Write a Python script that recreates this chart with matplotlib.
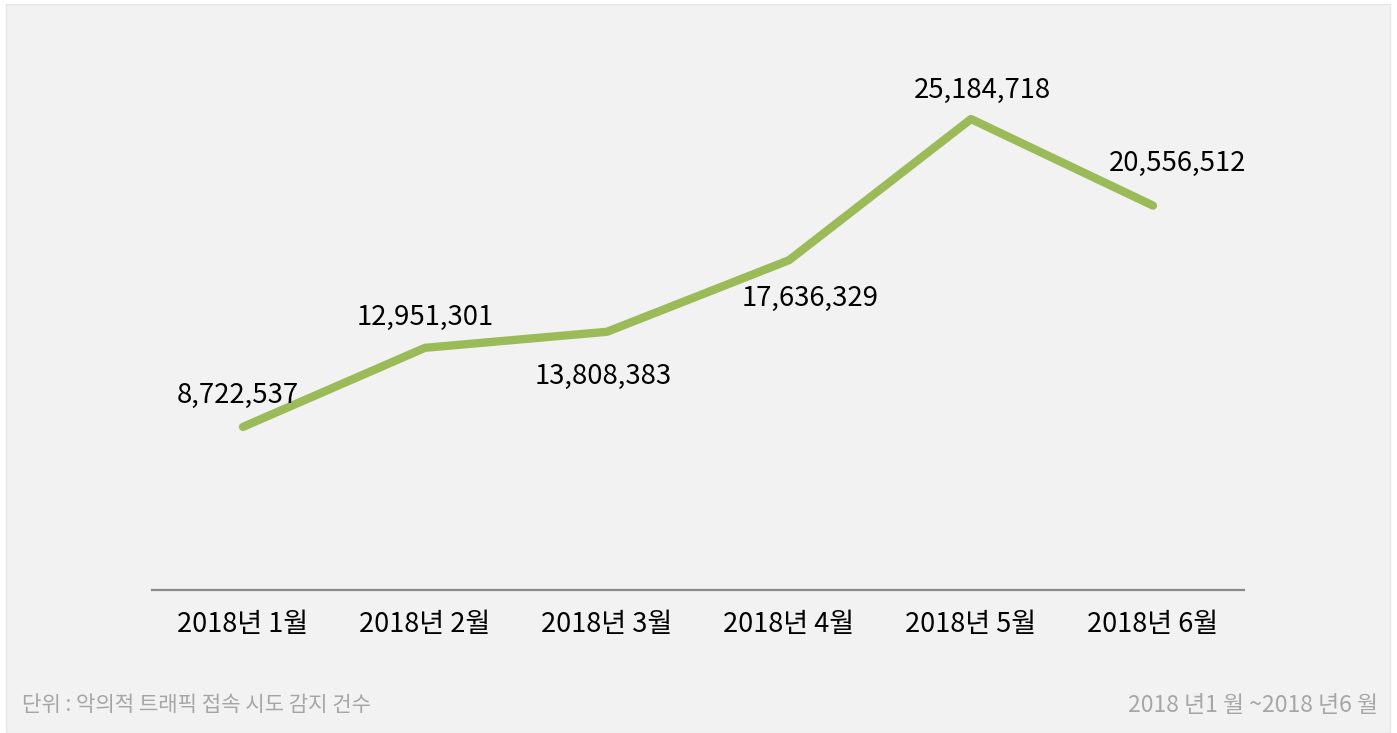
import matplotlib
matplotlib.use("Agg")
import matplotlib.pyplot as plt
from matplotlib.patches import Rectangle

plt.rcParams['font.family'] = ['Noto Sans CJK KR', 'DejaVu Sans']

MONTHS = ["2018년 1월", "2018년 2월", "2018년 3월", "2018년 4월", "2018년 5월", "2018년 6월"]
COUNTS = [8722537, 12951301, 13808383, 17636329, 25184718, 20556512]

# label placement around each point (pixels, x right / y up), baseline-anchored
LABEL_DX = [-5, 0, -4, 21, 11, 25]
LABEL_DY = [24, 23, -52, -46, 21, 35]

UNIT_NOTE = "단위 : 악의적 트래픽 접속 시도 감지 건수"
PERIOD_NOTE = "2018 년1 월 ~2018 년6 월"

LINE_COLOR = "#9bbb59"
PANEL_COLOR = "#f2f2f2"
NOTE_COLOR = "#a6a6a6"


def main():
    fig = plt.figure(figsize=(13.97, 7.33), dpi=100, facecolor="white")
    W, H = 1397, 733

    # grey card behind the chart
    fig.patches.append(Rectangle((6 / W, 0), (1390 - 6) / W, 1 - 4 / H,
                                 transform=fig.transFigure, facecolor=PANEL_COLOR,
                                 edgecolor="#e6e6e6", linewidth=1, zorder=0))

    ax = fig.add_axes([152 / W, 1 - 590 / H, (1244 - 152) / W, (590 - 29) / H])
    ax.set_facecolor("none")
    ax.set_zorder(2)

    x = list(range(len(MONTHS)))
    ax.plot(x, COUNTS, color=LINE_COLOR, linewidth=6, solid_capstyle="round",
            solid_joinstyle="round")

    for i, v in enumerate(COUNTS):
        ax.annotate(f"{v:,}", (i, v), xytext=(LABEL_DX[i], LABEL_DY[i]),
                    textcoords="offset pixels", ha="center", va="baseline",
                    fontsize=19.8, color="#000000")

    ax.set_xlim(-0.5, len(MONTHS) - 0.5)
    ax.set_ylim(0, 30e6)
    ax.set_xticks(x)
    ax.set_xticklabels(MONTHS, fontsize=19.5)
    ax.tick_params(axis="x", length=0, pad=15)
    ax.set_yticks([])
    for side in ("top", "left", "right"):
        ax.spines[side].set_visible(False)
    ax.spines["bottom"].set_color("#898989")
    ax.spines["bottom"].set_linewidth(1.6)

    fig.text(22 / W, 1 - 705 / H, UNIT_NOTE, fontsize=15.2, color=NOTE_COLOR,
             ha="left", va="center")
    fig.text(1378 / W, 1 - 705 / H, PERIOD_NOTE, fontsize=16.5, color=NOTE_COLOR,
             ha="right", va="center")

    fig.savefig("out.png", dpi=100, facecolor=fig.get_facecolor())
    plt.close(fig)


if __name__ == "__main__":
    main()
